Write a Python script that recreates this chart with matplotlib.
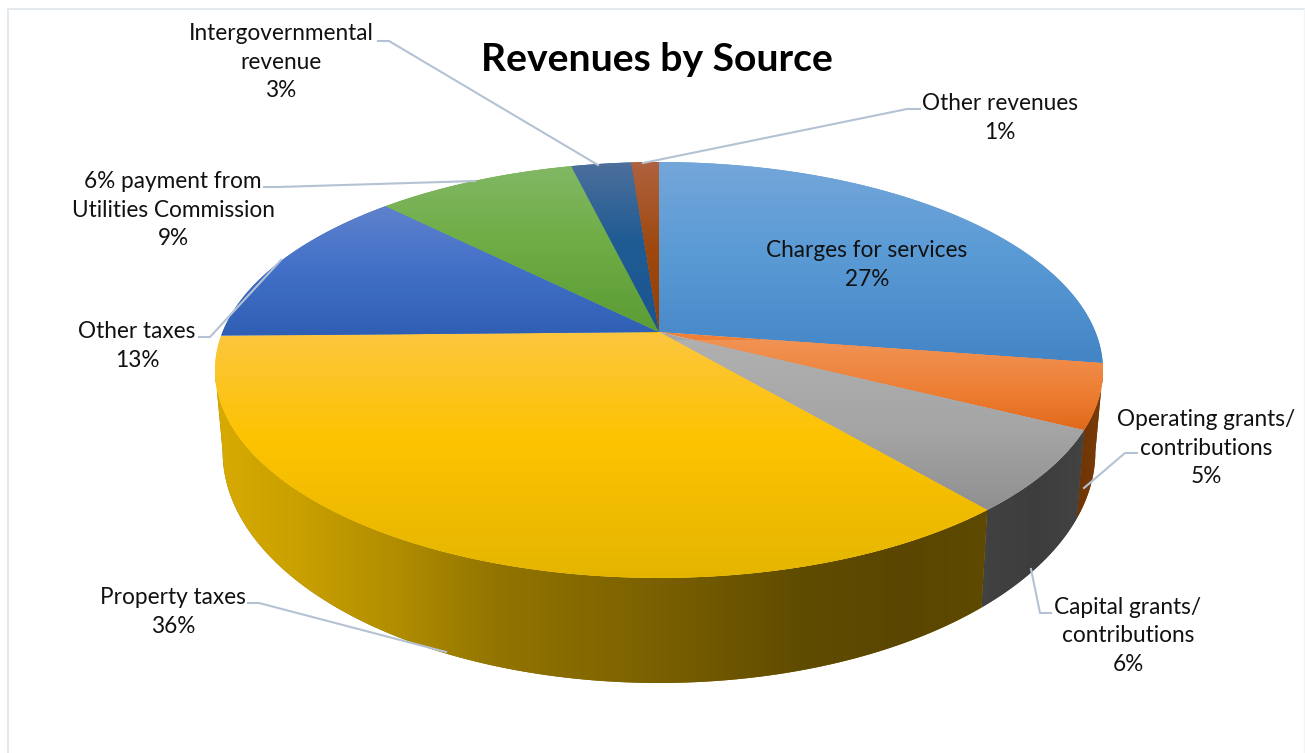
import numpy as np
import matplotlib
matplotlib.use("Agg")
import matplotlib.pyplot as plt
from matplotlib.patches import Polygon

plt.rcParams["font.family"] = ["Lato", "DejaVu Sans"]

# revenue shares in percent, clockwise from twelve o'clock
categories = ["Charges for services", "Operating grants/\ncontributions", "Capital grants/\ncontributions",
              "Property taxes", "Other taxes", "6% payment from\nUtilities Commission",
              "Intergovernmental\nrevenue", "Other revenues"]
values = [27.4, 5.0, 6.4, 35.9, 12.8, 8.7, 2.6, 1.2]

# top face shading: (y, colour) stops
top_shades = [
    [(162, "#74a6da"), (250, "#5b9bd5"), (370, "#4283c5")],
    [(340, "#f19355"), (395, "#ed7d31"), (430, "#e0691b")],
    [(340, "#b0b0b0"), (430, "#a5a5a5"), (512, "#8f8f8f")],
    [(333, "#fcc63f"), (440, "#fdc300"), (578, "#e4b500")],
    [(205, "#5f82cc"), (270, "#4270c8"), (335, "#2f5fb4")],
    [(165, "#82b865"), (240, "#6fad46"), (332, "#5c9c34")],
    [(162, "#4d6f9c"), (240, "#205c94"), (332, "#1a5490")],
    [(162, "#ae623e"), (250, "#9e480e"), (332, "#964005")],
]
# side wall shading: (x, colour) stops, only the wedges facing the viewer
wall_shades = {
    1: [(1070, "#6b3305"), (1105, "#7c3c08")],
    2: [(975, "#424242"), (1040, "#3d3d3d"), (1090, "#444444")],
    3: [(210, "#d9ab02"), (300, "#c9a000"), (400, "#b08c00"), (500, "#917400"),
        (660, "#7a6000"), (800, "#604c00"), (900, "#5a4600"), (1000, "#5f4a00")],
}

# label centres and leader lines
label_pos = [(867, 265), (1206, 448), (1128, 636), (173, 612), (137, 346), (173, 210), (281, 62), (1000, 118)]
leaders = [
    None,
    [(1137, 453), (1125, 453), (1084, 488)],
    [(1051, 613), (1040, 613), (1031, 569)],
    [(248, 603), (259, 603), (446, 652)],
    [(199, 337), (210, 337), (281, 260)],
    [(264, 187), (278, 187), (475, 181)],
    [(378, 41), (389, 41), (598, 165)],
    [(920, 109), (907, 109), (643, 163)],
]

# pie geometry in pixels
CX = 659
K = 0.1827
TOP_Y, TOP_A, TOP_B = 332, 436.5, 201
BOT_Y, BOT_A, BOT_B = 409.5, 429, 223.5


def rim(theta, y0, a, b):
    # perspective circle, theta clockwise from the back of the pie
    d = 1 + K * np.cos(theta)
    return np.column_stack((CX + a * np.sin(theta) / d, y0 - b * np.cos(theta) / d))


def stops_to_rgb(stops, n=400):
    pos = [s[0] for s in stops]
    rgb = np.array([matplotlib.colors.to_rgb(s[1]) for s in stops])
    grid = np.linspace(pos[0], pos[-1], n)
    return np.column_stack([np.interp(grid, pos, rgb[:, i]) for i in range(3)]), pos[0], pos[-1]


fig = plt.figure(figsize=(13.05, 7.53), dpi=100, facecolor="white")
ax = fig.add_axes([0, 0, 1, 1])


def gradient_poly(pts, stops, vertical, zorder):
    rgb, lo, hi = stops_to_rgb(stops)
    patch = Polygon(pts, closed=True, fc=rgb[len(rgb) // 2], ec="none", zorder=zorder)
    ax.add_patch(patch)
    if vertical:
        im = ax.imshow(rgb[:, None, :], extent=(pts[:, 0].min() - 2, pts[:, 0].max() + 2, hi, lo),
                       aspect="auto", zorder=zorder, interpolation="bilinear")
    else:
        im = ax.imshow(rgb[None, :, :], extent=(lo, hi, pts[:, 1].max() + 2, pts[:, 1].min() - 2),
                       aspect="auto", zorder=zorder, interpolation="bilinear")
    im.set_clip_path(patch)


# wedge boundaries
edges = 2 * np.pi * np.concatenate(([0], np.cumsum(values))) / sum(values)
left_tan = 2 * np.pi - np.arccos(-K)
right_tan = np.arccos(-K)

for i, shade in wall_shades.items():
    t0 = max(edges[i], right_tan)
    t1 = min(edges[i + 1], left_tan)
    t = np.linspace(t0, t1, 200)
    pts = np.vstack((rim(t, TOP_Y, TOP_A, TOP_B), rim(t, BOT_Y, BOT_A, BOT_B)[::-1]))
    gradient_poly(pts, shade, False, 2)

for i, shade in enumerate(top_shades):
    t = np.linspace(edges[i], edges[i + 1], 200)
    pts = np.vstack(([(CX, TOP_Y)], rim(t, TOP_Y, TOP_A, TOP_B)))
    gradient_poly(pts, shade, True, 3)

for line in leaders:
    if line is not None:
        xs, ys = zip(*line)
        ax.plot(xs, ys, color="#b4c2d4", lw=1.5, zorder=4, solid_joinstyle="round")

for name, val, (x, y) in zip(categories, values, label_pos):
    ax.text(x, y, f"{name}\n{val:.0f}%", ha="center", va="center", fontsize=16.3,
            color="#111111", linespacing=1.43, zorder=5)

ax.text(657, 59, "Revenues by Source", ha="center", va="center", fontsize=28.2,
        fontweight="bold", color="black", zorder=5)

# thin frame around the chart area, the right side is barely visible
ax.plot([7.8, 7.8, 1304], [753, 8.8, 8.8], color="#e4e9ee", lw=1.5, zorder=1)
ax.plot([1304, 1304], [8.8, 753], color="#f2f4f6", lw=1, zorder=1)

ax.set_xlim(0, 1305)
ax.set_ylim(753, 0)
ax.axis("off")
fig.savefig("out.png", dpi=100)
